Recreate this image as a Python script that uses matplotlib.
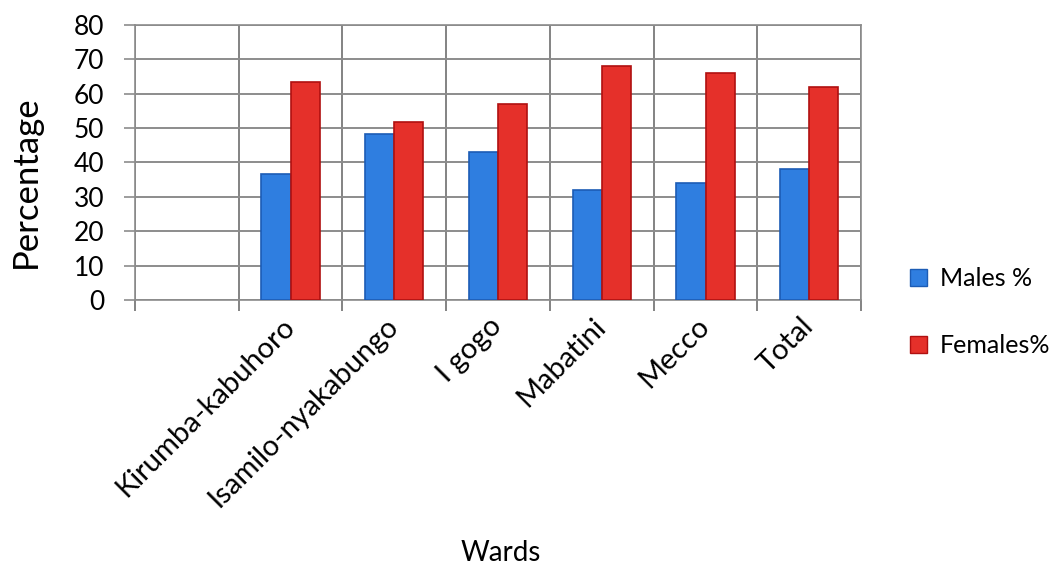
import numpy as np
import matplotlib
matplotlib.use("Agg")
import matplotlib.pyplot as plt
from matplotlib.patches import Patch

# ---------------------------------------------------------------------------
# Data
# ---------------------------------------------------------------------------
wards = ["Kirumba-kabuhoro", "Isamilo-nyakabungo", "I gogo", "Mabatini", "Mecco", "Total"]
males = [36.6, 48.2, 43.0, 32.0, 34.0, 38.0]
females = [63.4, 51.8, 57.0, 68.0, 66.0, 62.0]
y_ticks = [0, 10, 20, 30, 40, 50, 60, 70, 80]

BLUE = "#2f7ee0"
BLUE_EDGE = "#1c5cb5"
RED = "#e5302a"
RED_EDGE = "#b01010"
GRID = "#8c8c8c"

plt.rcParams["font.family"] = ["Lato", "DejaVu Sans"]

fig = plt.figure(figsize=(10.54, 5.67), dpi=100, facecolor="white")
ax = fig.add_axes([0.128, 0.471, 0.689, 0.485])

x = np.arange(len(wards))
w = 0.28
ax.bar(x - w / 2, males, width=w, color=BLUE, edgecolor=BLUE_EDGE, linewidth=1.2, zorder=3)
ax.bar(x + w / 2, females, width=w, color=RED, edgecolor=RED_EDGE, linewidth=1.2, zorder=3)

# first slot is empty in the original chart
ax.set_xlim(-1.5, len(wards) - 0.5)
ax.set_ylim(0, 80)

ax.set_yticks(y_ticks)
ax.set_yticklabels([str(t) for t in y_ticks], fontsize=19)
ax.tick_params(axis="y", direction="out", length=8, width=1.2, color=GRID, pad=14)
ax.yaxis.grid(True, color=GRID, linewidth=1.4, zorder=0)

ax.set_xticks(x)
ax.set_xticklabels(wards, fontsize=21, rotation=45, ha="right", va="center",
                   rotation_mode="anchor")
ax.tick_params(axis="x", which="major", length=0, pad=16)
ax.set_xticks(np.arange(-1.5, len(wards), 1.0), minor=True)
ax.tick_params(axis="x", which="minor", direction="out", length=8, width=1.2, color="#6e6e6e")
ax.xaxis.grid(True, which="minor", color="#6e6e6e", linewidth=1.2, zorder=0)

for s in ax.spines.values():
    s.set_color(GRID)
    s.set_linewidth(1.2)

ax.set_ylabel("Percentage", fontsize=25)
ax.yaxis.set_label_coords(-0.128, 0.43)
fig.text(0.475, 0.025, "Wards", fontsize=20, ha="center", va="center")

handles = [Patch(facecolor=BLUE, edgecolor=BLUE_EDGE, label="Males %"),
           Patch(facecolor=RED, edgecolor=RED_EDGE, label="Females%")]
fig.legend(handles=handles, loc="upper left", bbox_to_anchor=(0.842, 0.568),
           frameon=False, fontsize=18, labelspacing=1.75,
           handlelength=0.7, handleheight=0.7, handletextpad=0.5)

fig.savefig("out.png", dpi=100, facecolor="white")
